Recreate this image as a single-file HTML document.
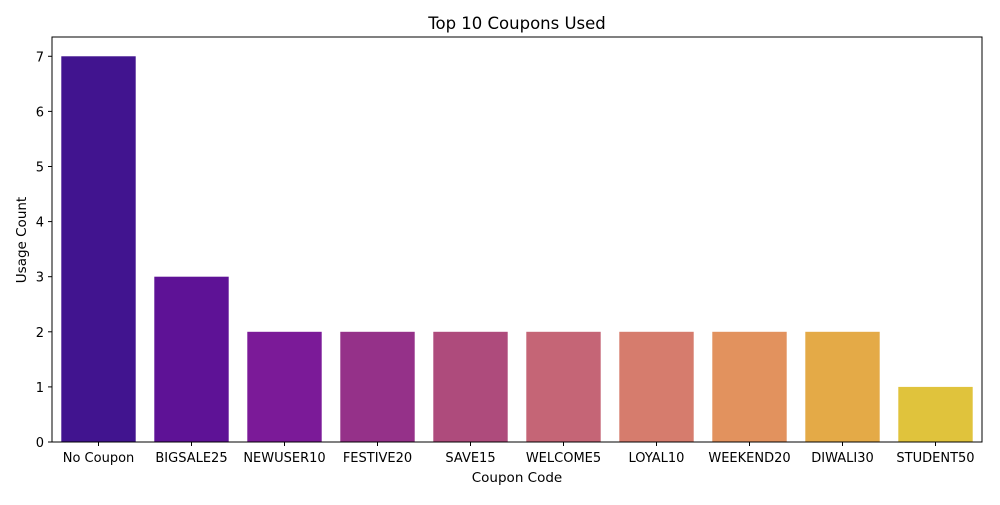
<!DOCTYPE html>
<html><head><meta charset="utf-8"><style>
body{margin:0;background:#fff;font-family:"Liberation Sans","DejaVu Sans",sans-serif;}
svg text{font-family:"DejaVu Sans","Liberation Sans",sans-serif;fill:#000;}
</style></head><body>
<svg id="chart" width="1000" height="500">
<text x="517" y="29" text-anchor="middle" font-size="16.5">Top 10 Coupons Used</text>
<g id="bars"></g>
<g id="axes"></g>
<text x="517" y="482" text-anchor="middle" font-size="13.5">Coupon Code</text>
<text transform="translate(26,240) rotate(-90)" text-anchor="middle" font-size="13.5">Usage Count</text>
</svg>
<script>
const categories=["No Coupon","BIGSALE25","NEWUSER10","FESTIVE20","SAVE15","WELCOME5","LOYAL10","WEEKEND20","DIWALI30","STUDENT50"];
const values=[7,3,2,2,2,2,2,2,2,1];
const colors=["#41148f","#5e1296","#7b1a98","#953189","#ae4b7c","#c56576","#d67c6d","#e2925e","#e4aa47","#e0c33c"];
const yTicks=[0,1,2,3,4,5,6,7];
const NS="http://www.w3.org/2000/svg";
const L=52,R=982,T=37,B=442;
const yMax=Math.max(...values)*1.05;
const band=(R-L)/categories.length;
const x=i=>L+band*i+band*0.1;
const y=v=>B-(B-T)*v/yMax;
function mk(t,a,p){const e=document.createElementNS(NS,t);for(const k in a)e.setAttribute(k,a[k]);p.appendChild(e);return e;}
const bars=document.getElementById('bars'),axes=document.getElementById('axes');
values.forEach((v,i)=>{
 const r=mk('rect',{x:x(i),y:y(v),width:band*0.8,height:B-y(v),fill:colors[i]},bars);
 
 
 const tk=mk('line',{x1:x(i)+band*0.4,x2:x(i)+band*0.4,y1:B,y2:B+4,stroke:'#000','stroke-width':1},axes);
 const t=mk('text',{x:x(i)+band*0.4,y:B+20,'text-anchor':'middle','font-size':13},axes);
 t.textContent=categories[i];
 
 
});
yTicks.forEach(v=>{
 mk('line',{x1:L-4,x2:L,y1:y(v),y2:y(v),stroke:'#000','stroke-width':1},axes);
 const t=mk('text',{x:L-8,y:y(v)+5,'text-anchor':'end','font-size':13},axes);
 t.textContent=v;
 
 
});
const f=mk('rect',{x:L,y:T,width:R-L,height:B-T,fill:'none',stroke:'#000','stroke-width':1},axes);


</script>
</body></html>
